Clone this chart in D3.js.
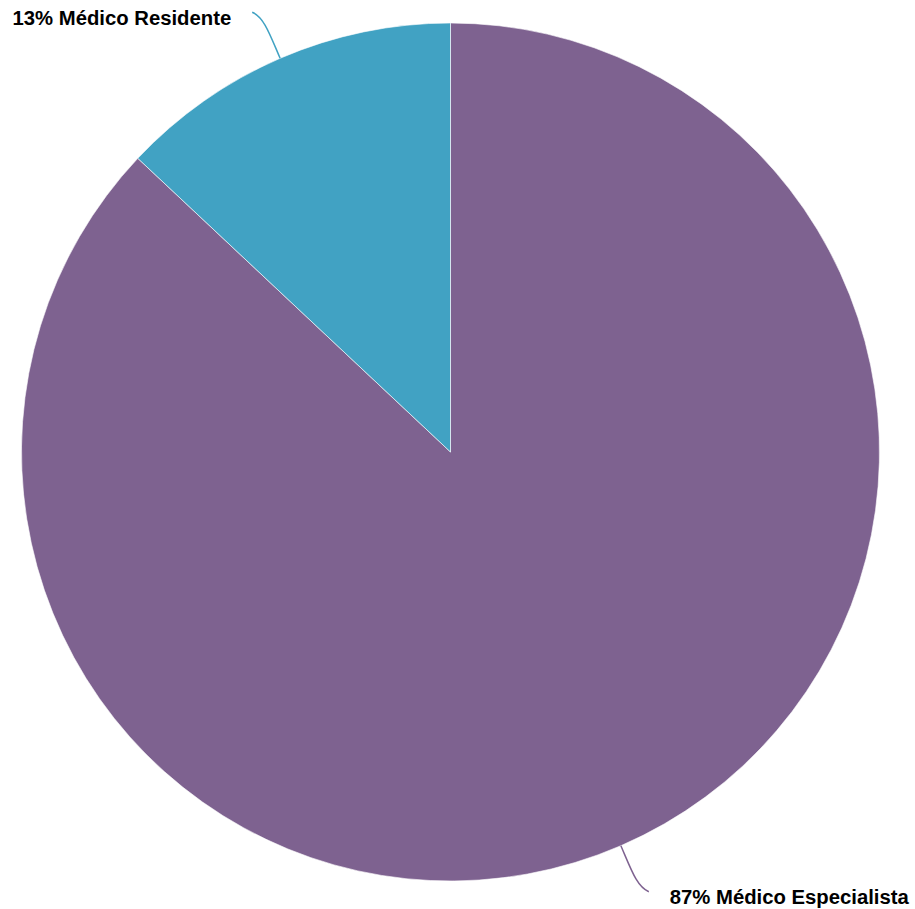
<!DOCTYPE html>
<html>
<head>
<meta charset="utf-8">
<script src="https://cdn.jsdelivr.net/npm/d3@7"></script>
<style>
  html, body { margin: 0; padding: 0; background: #fff; }
  svg { display: block; }
  .lbl { font-family: "Liberation Sans", Arial, Helvetica, sans-serif; font-weight: bold; font-size: 20.3px; fill: #000; }
</style>
</head>
<body>
<svg id="chart" width="915" height="909"></svg>
<script>
// Distribution of physicians by category
const categories = ["Médico Especialista", "Médico Residente"];
const shares = [87, 13];
const colors = ["#7e6290", "#41a2c3"];

const width = 915, height = 909;
const cx = 450.5, cy = 452, radius = 429;

const svg = d3.select("#chart");
const g = svg.append("g").attr("transform", `translate(${cx},${cy})`);

const data = categories.map((c, i) => ({ name: c, value: shares[i], color: colors[i] }));

const pie = d3.pie().value(d => d.value).sort(null);
const arcs = pie(data);

const arc = d3.arc().innerRadius(0).outerRadius(radius);

g.selectAll("path.slice")
  .data(arcs)
  .join("path")
  .attr("class", "slice")
  .attr("d", arc)
  .attr("fill", d => d.data.color)
  .attr("stroke", "#fff")
  .attr("stroke-width", 0.6);

// point at a given radius along a pie angle (0 = 12 o'clock, clockwise)
const polar = (a, r) => [Math.sin(a) * r, -Math.cos(a) * r];

const labels = g.append("g");
arcs.forEach(d => {
  const mid = (d.startAngle + d.endAngle) / 2;
  const right = Math.sin(mid) > 0 ? 1 : -1;
  const p0 = polar(mid, radius);
  const p1 = polar(mid, radius * 1.06);
  const p3 = polar(mid, radius * 1.117);
  p3[0] += right * 8;
  const p2 = [p3[0] + right * -12, p3[1] + (Math.cos(mid) > 0 ? 5 : -5)];
  const path = d3.path();
  path.moveTo(p0[0], p0[1]);
  path.bezierCurveTo(p1[0], p1[1], p2[0], p2[1], p3[0], p3[1]);
  labels.append("path")
    .attr("d", path.toString())
    .attr("fill", "none")
    .attr("stroke", d.data.color)
    .attr("stroke-width", 1.5);
  labels.append("text")
    .attr("class", "lbl")
    .attr("x", p3[0] + right * 21)
    .attr("y", p3[1] + 12.5)
    .attr("text-anchor", right > 0 ? "start" : "end")
    .text(`${d.data.value}% ${d.data.name}`);
});
</script>
</body>
</html>
